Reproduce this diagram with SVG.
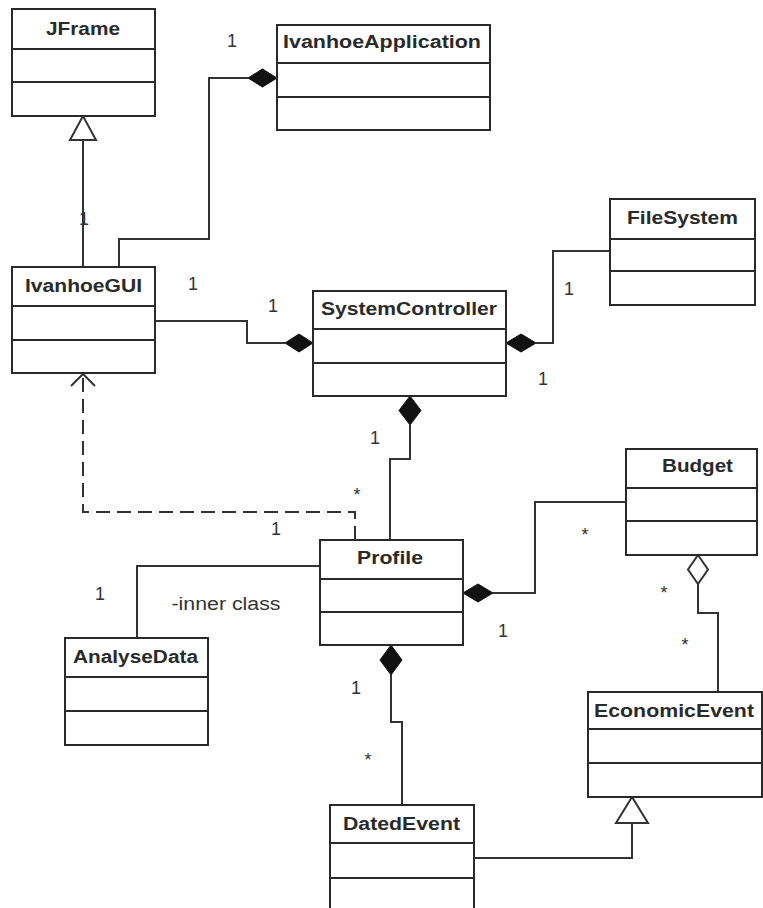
<svg xmlns="http://www.w3.org/2000/svg" width="763" height="908" viewBox="0 0 763 908">
<style>
.box{fill:#fff;stroke:#2a2a2a;stroke-width:2}
.div{stroke:#2a2a2a;stroke-width:2}
.name{font-family:"Liberation Sans",Arial,sans-serif;font-weight:bold;font-size:18px;fill:#2a2a2a;text-anchor:middle}
.lbl{font-family:"Liberation Sans",Arial,sans-serif;font-size:18px;fill:#333;text-anchor:middle}
.ln{fill:none;stroke:#333;stroke-width:2}
.dash{fill:none;stroke:#333;stroke-width:2;stroke-dasharray:14,7}
.fd{fill:#111;stroke:#111;stroke-width:1}
.hd{fill:#fff;stroke:#333;stroke-width:2}
</style>
<rect width="763" height="908" fill="#fff"/>
<g id="connectors">
  <path class="ln" d="M83,140 V267"/>
  <polygon class="hd" points="83,116 70,140 96,140"/>
  <path class="ln" d="M119,267 V239 H209 V78 H248"/>
  <polygon class="fd" points="248,78 262.5,69 277,78 262.5,87"/>
  <path class="ln" d="M155,321 H247 V343 H285"/>
  <polygon class="fd" points="285,343 299,334 313,343 299,352"/>
  <path class="ln" d="M536,343 H553 V251 H610"/>
  <polygon class="fd" points="506,343 521,334 536,343 521,352"/>
  <path class="ln" d="M410,425 V459 H390 V540"/>
  <polygon class="fd" points="410,396 421,410.5 410,425 399,410.5"/>
  <path class="dash" d="M355,540 V512 H83 V375"/>
  <path class="ln" d="M71,386 L83,374 L95,386"/>
  <path class="ln" d="M320,566 H137 V638"/>
  <path class="ln" d="M493,593 H535 V502 H626"/>
  <polygon class="fd" points="463,593 478,584 493,593 478,602"/>
  <path class="ln" d="M698,584 V613 H718 V692"/>
  <polygon class="hd" points="698,555 708,569.5 698,584 688,569.5"/>
  <path class="ln" d="M391,675 V722 H402 V805"/>
  <polygon class="fd" points="391,645 402,660 391,675 380,660"/>
  <path class="ln" d="M632,823 V858 H474"/>
  <polygon class="hd" points="632,797 616,823 648,823"/>
</g>
<g id="labels">
  <text class="lbl" x="232" y="47">1</text>
  <text class="lbl" x="84" y="225">1</text>
  <text class="lbl" x="193" y="290">1</text>
  <text class="lbl" x="273" y="312">1</text>
  <text class="lbl" x="569" y="295">1</text>
  <text class="lbl" x="543" y="385">1</text>
  <text class="lbl" x="375" y="444">1</text>
  <text class="lbl" x="357" y="501">*</text>
  <text class="lbl" x="276" y="535">1</text>
  <text class="lbl" x="100" y="600">1</text>
  <text class="lbl" x="226" y="610" textLength="109" lengthAdjust="spacingAndGlyphs">-inner class</text>
  <text class="lbl" x="585" y="541">*</text>
  <text class="lbl" x="503" y="637">1</text>
  <text class="lbl" x="664" y="599">*</text>
  <text class="lbl" x="685" y="651">*</text>
  <text class="lbl" x="356" y="694">1</text>
  <text class="lbl" x="368" y="766">*</text>
</g>
<g id="JFrame">
  <rect class="box" x="12" y="9" width="143" height="107"/>
  <line class="div" x1="12" y1="49" x2="155" y2="49"/>
  <line class="div" x1="12" y1="82" x2="155" y2="82"/>
  <text class="name" x="83" y="35" textLength="74" lengthAdjust="spacingAndGlyphs">JFrame</text>
</g>
<g id="IvanhoeApplication">
  <rect class="box" x="277" y="25" width="213" height="105"/>
  <line class="div" x1="277" y1="63" x2="490" y2="63"/>
  <line class="div" x1="277" y1="97" x2="490" y2="97"/>
  <text class="name" x="382" y="48" textLength="198" lengthAdjust="spacingAndGlyphs">IvanhoeApplication</text>
</g>
<g id="IvanhoeGUI">
  <rect class="box" x="12" y="267" width="143" height="106"/>
  <line class="div" x1="12" y1="306" x2="155" y2="306"/>
  <line class="div" x1="12" y1="340" x2="155" y2="340"/>
  <text class="name" x="83.5" y="292" textLength="117" lengthAdjust="spacingAndGlyphs">IvanhoeGUI</text>
</g>
<g id="SystemController">
  <rect class="box" x="313" y="291" width="193" height="105"/>
  <line class="div" x1="313" y1="329" x2="506" y2="329"/>
  <line class="div" x1="313" y1="363" x2="506" y2="363"/>
  <text class="name" x="409" y="315" textLength="176" lengthAdjust="spacingAndGlyphs">SystemController</text>
</g>
<g id="FileSystem">
  <rect class="box" x="610" y="199" width="145" height="106"/>
  <line class="div" x1="610" y1="239" x2="755" y2="239"/>
  <line class="div" x1="610" y1="271" x2="755" y2="271"/>
  <text class="name" x="682.5" y="224" textLength="111" lengthAdjust="spacingAndGlyphs">FileSystem</text>
</g>
<g id="Profile">
  <rect class="box" x="320" y="540" width="143" height="105"/>
  <line class="div" x1="320" y1="579" x2="463" y2="579"/>
  <line class="div" x1="320" y1="612" x2="463" y2="612"/>
  <text class="name" x="390" y="564" textLength="66" lengthAdjust="spacingAndGlyphs">Profile</text>
</g>
<g id="Budget">
  <rect class="box" x="626" y="449" width="131" height="106"/>
  <line class="div" x1="626" y1="488" x2="757" y2="488"/>
  <line class="div" x1="626" y1="521" x2="757" y2="521"/>
  <text class="name" x="697.5" y="472" textLength="71" lengthAdjust="spacingAndGlyphs">Budget</text>
</g>
<g id="AnalyseData">
  <rect class="box" x="65" y="638" width="143" height="107"/>
  <line class="div" x1="65" y1="677" x2="208" y2="677"/>
  <line class="div" x1="65" y1="711" x2="208" y2="711"/>
  <text class="name" x="135.5" y="663" textLength="125" lengthAdjust="spacingAndGlyphs">AnalyseData</text>
</g>
<g id="EconomicEvent">
  <rect class="box" x="588" y="692" width="174" height="105"/>
  <line class="div" x1="588" y1="729" x2="762" y2="729"/>
  <line class="div" x1="588" y1="763" x2="762" y2="763"/>
  <text class="name" x="674" y="717" textLength="160" lengthAdjust="spacingAndGlyphs">EconomicEvent</text>
</g>
<g id="DatedEvent">
  <rect class="box" x="330" y="805" width="144" height="115"/>
  <line class="div" x1="330" y1="843" x2="474" y2="843"/>
  <line class="div" x1="330" y1="878" x2="474" y2="878"/>
  <text class="name" x="401.5" y="830" textLength="117" lengthAdjust="spacingAndGlyphs">DatedEvent</text>
</g>
</svg>
